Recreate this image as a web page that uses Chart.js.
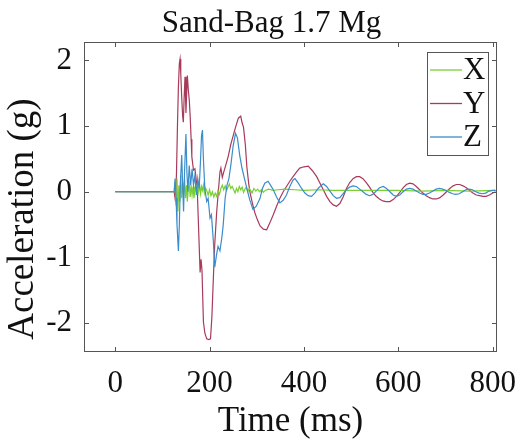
<!DOCTYPE html>
<html>
<head>
<meta charset="utf-8">
<script src="https://cdn.jsdelivr.net/npm/chart.js@4.4.1/dist/chart.umd.min.js"></script>
<style>
  html, body { margin: 0; padding: 0; background: #fff; }
</style>
</head>
<body>
<canvas id="chart" width="522" height="440"></canvas>
<script>
// axis ticks
const timeTicks = [0, 200, 400, 600, 800];
const accelTicks = [-2, -1, 0, 1, 2];

// X channel (green)
const xTime = [0,125,127,129,131,133,135,137,139,141,143,145,147,149,151,153,155,157,159,161,163,165,167,169,171,173,175,177,179,181,183,185,187,189,191,
  194,197,200,203,206,209,212,215,218,221,224,227,230,233,236,239,242,245,248,251,254,257,260,263,266,269,272,275,278,281,284,287,290,
  294,298,302,306,310,314,318,325,335,345,360,380,400,430,460,500,550,600,650,700,750,806];
const xAccel = [0,0,0.15,-0.2,0.2,-0.3,0.1,-0.15,0.25,-0.1,0.15,-0.05,0.2,-0.1,0.1,-0.15,0.05,0.12,-0.08,0.1,-0.05,0.08,-0.1,0.05,0.1,-0.05,0.15,0.0,0.1,-0.03,0.08,0.02,0.1,-0.02,0.06,
  0.02,-0.05,0.03,-0.06,0.0,-0.08,-0.02,-0.07,0.02,-0.04,0.05,0.1,0.03,0.09,0.02,0.07,0.12,0.05,0.08,0.03,-0.02,0.05,0.0,0.08,0.03,0.07,-0.01,0.04,0.07,0.0,0.05,0.02,-0.02,
  0.05,0.01,0.04,0.0,0.03,-0.01,0.02,0.04,0.02,0.03,0.04,0.03,0.02,0.03,0.02,0.02,0.02,0.02,0.01,0.02,0.01,0.02];

// Y channel (red)
const yTime = [0,125,128,130,132,134,136,137.5,139,141,143,144.5,146,148,150,151.5,153,155,157,159,161,162.5,166,169,171,174,177,180,182,184,
  187,190,194,198,202,205,208,211,215,218,222,224,227,230,235,240,245,250,255,261,266,269,272,276,279,283,286,291,296,301,307,
  314,321,328,335,342,349,356,363,370,377,384,391,400,409,418,427,
  434,441,448,455,462,469,476,483,490,497,504,511,518,525,532,539,546,553,560,567,574,
  582,589,596,603,610,617,624,631,638,645,652,659,666,673,
  681,688,695,702,709,716,723,730,737,744,751,758,765,772,779,786,793,800,806];
const yAccel = [0,0,-0.15,0.3,1.0,1.6,1.95,2.02,1.8,1.44,1.15,1.06,1.4,1.75,1.2,1.5,1.77,1.55,1.4,1.14,0.8,0.53,0.33,0.35,0.23,0.03,-0.6,-1.23,-1.03,-1.2,
  -1.98,-2.15,-2.24,-2.25,-2.24,-1.9,-1.33,-0.8,-0.32,-0.05,0.3,0.36,0.22,0.3,0.42,0.55,0.72,0.85,0.98,1.12,1.15,1.05,0.98,0.7,0.38,0.12,-0.02,-0.18,-0.32,-0.42,-0.52,
  -0.57,-0.58,-0.47,-0.35,-0.22,-0.1,0.0,0.08,0.16,0.23,0.3,0.36,0.38,0.39,0.32,0.23,
  0.13,0.03,-0.07,-0.15,-0.2,-0.22,-0.18,-0.08,0.05,0.14,0.2,0.23,0.23,0.2,0.14,0.07,-0.01,-0.07,-0.11,-0.14,-0.15,
  -0.15,-0.12,-0.07,-0.01,0.06,0.11,0.13,0.12,0.08,0.03,-0.02,-0.06,-0.09,-0.11,
  -0.11,-0.09,-0.05,0.0,0.05,0.09,0.11,0.11,0.09,0.06,0.02,-0.02,-0.05,-0.06,-0.07,-0.07,-0.05,-0.02,0.0];

// Z channel (blue)
const zTime = [0,125,127,129,131,134,136,138,141,143,145,147,150,152,154,157,160,163,166,169,172,175,178,181,183,185,187,190,194,197,
  201,204,208,211,215,218,222,226,229,233,237,241,245,250,255,259,264,269,274,279,285,292,299,307,312,317,324,330,335,
  342,349,356,363,370,377,381,388,395,402,409,416,423,430,437,441,
  448,455,462,469,476,483,490,497,504,511,518,525,532,539,546,553,560,
  568,575,582,589,596,603,610,617,624,631,638,645,652,659,666,673,680,687,694,701,708,715,722,729,736,743,750,757,764,771,778,785,792,800,806];
const zAccel = [0,0,0.2,-0.1,-0.5,-0.9,-0.5,0.1,0.56,0.1,-0.3,0.3,0.88,0.3,0.0,0.4,0.1,0.35,0.1,0.25,-0.05,0.2,0.05,0.5,0.85,0.94,0.5,0.05,-0.15,-0.1,
  -0.4,-0.35,-0.75,-1.15,-0.95,-0.83,-0.9,-0.7,-0.5,-0.1,0.1,0.2,0.4,0.7,0.89,0.82,0.55,0.35,0.2,0.05,-0.12,-0.27,-0.22,-0.1,0.05,0.13,0.16,0.09,0.03,
  -0.08,-0.17,-0.13,-0.05,0.08,0.18,0.2,0.13,0.05,-0.02,-0.06,-0.07,-0.02,0.05,0.1,0.12,
  0.08,0.01,-0.06,-0.1,-0.09,-0.03,0.03,0.07,0.09,0.08,0.04,0.0,-0.04,-0.06,-0.04,0.01,0.06,
  0.08,0.05,0.0,-0.05,-0.07,-0.05,0.0,0.04,0.05,0.04,0.01,-0.02,-0.04,-0.04,-0.02,0.01,0.04,0.05,0.04,0.02,-0.01,-0.03,-0.04,-0.03,0.0,0.03,0.04,0.03,0.0,-0.02,-0.03,-0.02,0.01,0.02,0.02];

function toPoints(t, v) {
  return t.map((x, i) => ({x: x, y: v[i]}));
}

const serif = '"Liberation Serif", "Times New Roman", serif';
const boxColor = '#555';

// MATLAB-like box with inward ticks on all sides
const boxPlugin = {
  id: 'box',
  afterDatasetsDraw(chart) {
    const {ctx, chartArea: a, scales} = chart;
    ctx.save();
    ctx.strokeStyle = boxColor;
    ctx.lineWidth = 1;
    ctx.strokeRect(a.left + 0.5, a.top + 0.5, a.right - a.left - 1, a.bottom - a.top - 1);
    ctx.beginPath();
    timeTicks.forEach(t => {
      const px = Math.round(scales.x.getPixelForValue(t)) + 0.5;
      ctx.moveTo(px, a.bottom); ctx.lineTo(px, a.bottom - 5);
      ctx.moveTo(px, a.top); ctx.lineTo(px, a.top + 5);
    });
    accelTicks.forEach(v => {
      const py = Math.round(scales.y.getPixelForValue(v)) + 0.5;
      ctx.moveTo(a.left, py); ctx.lineTo(a.left + 5, py);
      ctx.moveTo(a.right, py); ctx.lineTo(a.right - 5, py);
    });
    ctx.stroke();
    ctx.restore();
  }
};

// legend box in the top right corner of the axes
const legendPlugin = {
  id: 'boxLegend',
  afterDraw(chart) {
    const {ctx, chartArea: a} = chart;
    const x0 = a.right - 70, y0 = a.top + 10, w = 61, h = 103;
    ctx.save();
    ctx.fillStyle = '#fff';
    ctx.fillRect(x0, y0, w, h);
    ctx.strokeStyle = boxColor;
    ctx.lineWidth = 1;
    ctx.strokeRect(x0 + 0.5, y0 + 0.5, w, h);
    ctx.font = '31px ' + serif;
    ctx.textBaseline = 'middle';
    ctx.fillStyle = '#111';
    chart.data.datasets.forEach((ds, i) => {
      const y = y0 + 18 + i * 33.5;
      ctx.strokeStyle = ds.borderColor;
      ctx.lineWidth = 1.3;
      ctx.beginPath();
      ctx.moveTo(x0 + 3, y); ctx.lineTo(x0 + 35, y);
      ctx.stroke();
      ctx.fillText(ds.label, x0 + 36, y + 1);
    });
    ctx.restore();
  }
};

// y-axis label
const yTitlePlugin = {
  id: 'yTitle',
  afterDraw(chart) {
    const ctx = chart.ctx;
    ctx.save();
    ctx.translate(23, 219);
    ctx.rotate(-Math.PI / 2);
    ctx.font = '37px ' + serif;
    ctx.fillStyle = '#111';
    ctx.textAlign = 'center';
    ctx.textBaseline = 'middle';
    ctx.fillText('Acceleration (g)', 0, 0);
    ctx.restore();
  }
};

const ctx = document.getElementById('chart').getContext('2d');
new Chart(ctx, {
  type: 'scatter',
  data: {
    datasets: [
      {label: 'X', data: toPoints(xTime, xAccel), borderColor: '#79cf35', order: 1},
      {label: 'Y', data: toPoints(yTime, yAccel), borderColor: '#a83a5a', order: 2},
      {label: 'Z', data: toPoints(zTime, zAccel), borderColor: '#3b8ccb', order: 0}
    ]
  },
  options: {
    responsive: false,
    animation: false,
    devicePixelRatio: 1,
    showLine: true,
    elements: {
      point: {radius: 0},
      line: {borderWidth: 1.2, tension: 0}
    },
    layout: {padding: {left: 46, right: 25, top: 0, bottom: 0}},
    plugins: {
      legend: {display: false},
      tooltip: {enabled: false},
      title: {
        display: true,
        text: 'Sand-Bag 1.7 Mg',
        color: '#111',
        font: {family: serif, size: 31, weight: 'normal', lineHeight: 1},
        padding: {top: 8, bottom: 3}
      }
    },
    scales: {
      x: {
        type: 'linear',
        min: -66,
        max: 809,
        afterBuildTicks: s => { s.ticks = timeTicks.map(v => ({value: v})); },
        afterFit: s => { s.height = 88; s.paddingLeft = 0; s.paddingRight = 0; },
        grid: {display: false, drawTicks: false},
        border: {display: false},
        ticks: {
          color: '#111',
          font: {family: serif, size: 31},
          padding: 13,
          maxRotation: 0
        },
        title: {
          display: true,
          text: 'Time (ms)',
          color: '#111',
          font: {family: serif, size: 35, lineHeight: 1},
          padding: {top: 0, bottom: 1}
        }
      },
      y: {
        type: 'linear',
        min: -2.44,
        max: 2.28,
        afterBuildTicks: s => { s.ticks = accelTicks.map(v => ({value: v})); },
        afterFit: s => { s.width = 38; s.paddingTop = 0; s.paddingBottom = 0; },
        grid: {display: false, drawTicks: false},
        border: {display: false},
        ticks: {
          color: '#111',
          font: {family: serif, size: 31},
          padding: 12
        }
      }
    }
  },
  plugins: [boxPlugin, legendPlugin, yTitlePlugin]
});
</script>
</body>
</html>
